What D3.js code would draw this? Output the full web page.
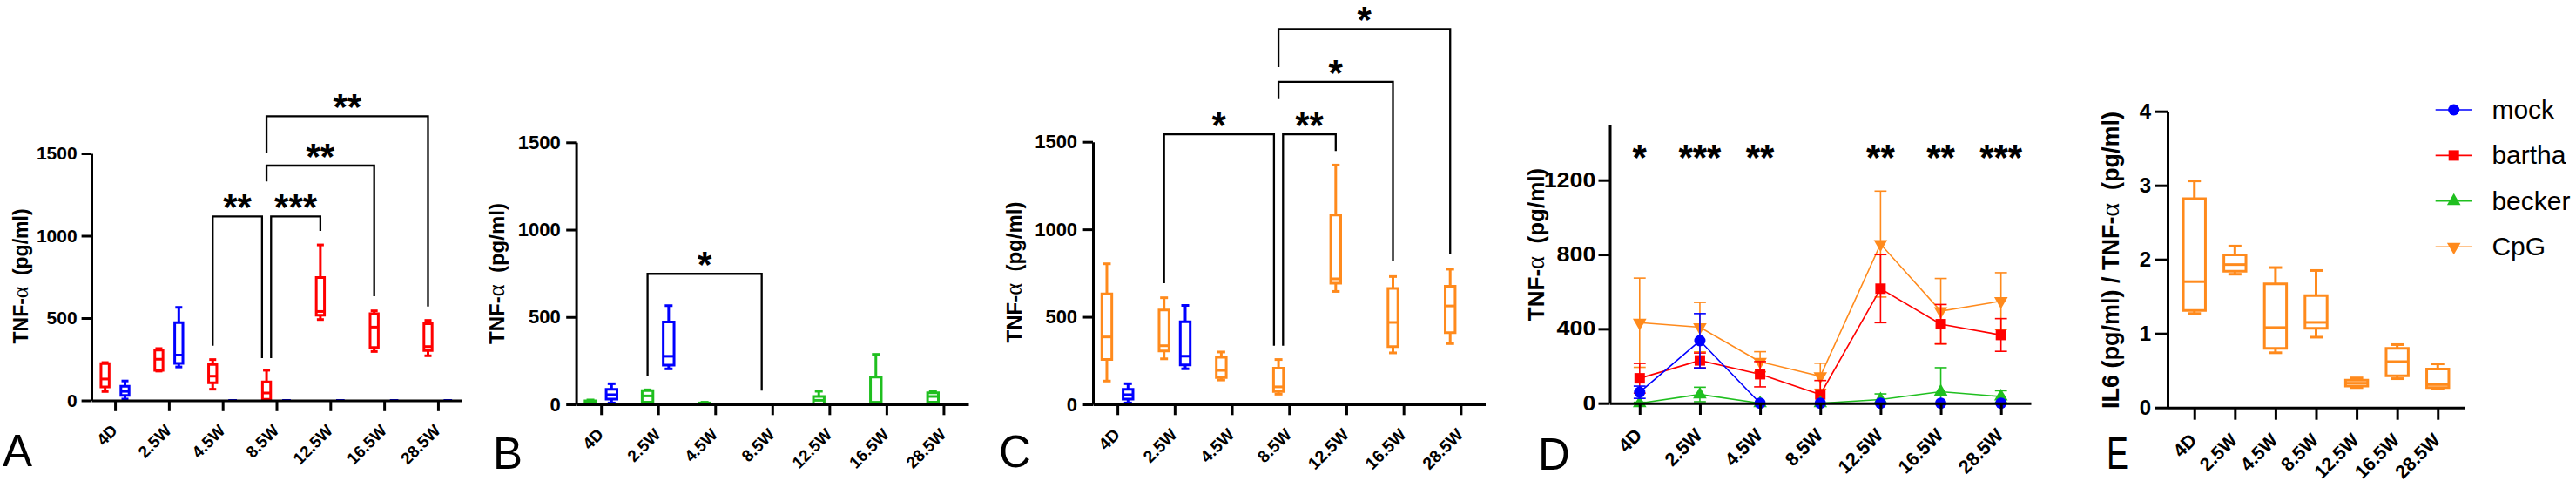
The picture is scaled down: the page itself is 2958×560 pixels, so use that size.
<!DOCTYPE html>
<html>
<head>
<meta charset="utf-8">
<script src="https://cdn.jsdelivr.net/npm/d3@7"></script>
<style>
  body { margin: 0; background: #fff; }
  svg text { font-family: "Liberation Sans", Arial, sans-serif; }
</style>
</head>
<body>
<div id="chart"></div>
<script>
// ---------- data ----------
const categories = ["4D", "2.5W", "4.5W", "8.5W", "12.5W", "16.5W", "28.5W"];

// box plot stats per time point: [min, q1, median, q3, max]  (TNF-alpha, pg/ml)
const mockBox = [[8, 30, 55, 86, 118], [203, 225, 275, 472, 565], [0, 0, 0, 0, 0], [0, 0, 0, 0, 0], [0, 0, 0, 0, 0], [0, 0, 0, 0, 0], [0, 0, 0, 0, 0]];
const barthaBox = [[54, 82, 130, 223, 230], [178, 182, 250, 306, 315], [68, 107, 147, 218, 248], [0, 6, 45, 112, 183], [491, 517, 540, 746, 944], [297, 322, 445, 527, 544], [271, 303, 327, 465, 486]];
const beckerBox = [[0, 3, 10, 20, 25], [3, 12, 48, 78, 83], [0, 2, 5, 8, 12], [0, 0, 0, 0, 0], [0, 3, 23, 45, 75], [0, 3, 12, 156, 286], [3, 12, 45, 66, 73]];
const cpgBox = [[133, 257, 385, 631, 803], [260, 305, 335, 539, 609], [139, 153, 194, 269, 299], [58, 73, 100, 206, 256], [645, 692, 717, 1082, 1367], [294, 330, 468, 662, 730], [347, 410, 562, 675, 772]];
// IL6 / TNF-alpha ratio, CpG group
const ratioBox = [[1.27, 1.31, 1.70, 2.82, 3.06], [1.80, 1.84, 1.93, 2.06, 2.18], [0.74, 0.80, 1.08, 1.67, 1.89], [0.95, 1.07, 1.15, 1.51, 1.85], [0.27, 0.29, 0.33, 0.37, 0.40], [0.39, 0.43, 0.62, 0.80, 0.85], [0.25, 0.27, 0.31, 0.52, 0.59]];

// panel D: mean and SD
const mockMean = [59, 336, 0, 0, 0, 0, 0];
const mockSD = [33, 146, 0, 0, 0, 0, 0];
const barthaMean = [134, 230, 156, 47, 616, 425, 367];
const barthaSD = [80, 40, 68, 75, 183, 106, 88];
const beckerMean = [0, 47, 0, 0, 20, 62, 36];
const beckerSD = [5, 39, 0, 0, 30, 129, 31];
const cpgMean = [433, 409, 223, 145, 856, 495, 549];
const cpgSD = [240, 133, 54, 70, 285, 176, 153];
const starsD = ["*", "***", "**", "", "**", "**", "***"];

// significance brackets (values in pg/ml): bar height and leg ends
const bracketsA = [
  { from: "4.5W", to: "8.5W", y: 1117, fromEnd: 332, toEnd: 257, label: "**" },
  { from: "8.5W", to: "12.5W", y: 1117, fromEnd: 257, toEnd: 1029, label: "***" },
  { from: "8.5W", to: "16.5W", y: 1426, fromEnd: 1329, toEnd: 632, label: "**" },
  { from: "8.5W", to: "28.5W", y: 1726, fromEnd: 1505, toEnd: 570, label: "**" }
];
const bracketsB = [
  { from: "2.5W", to: "8.5W", y: 747, fromEnd: 161, toEnd: 78, label: "*" }
];
const bracketsC = [
  { from: "2.5W", to: "8.5W", y: 1543, fromEnd: 692, toEnd: 335, label: "*" },
  { from: "8.5W", to: "12.5W", y: 1543, fromEnd: 335, toEnd: 1447, label: "**" },
  { from: "8.5W", to: "16.5W", y: 1843, fromEnd: 1744, toEnd: 816, label: "*" },
  { from: "8.5W", to: "28.5W", y: 2144, fromEnd: 1927, toEnd: 858, label: "*" }
];

const legendNames = ["mock", "bartha", "becker", "CpG"];

const colors = { mock: "#0000ff", bartha: "#ff0000", becker: "#1fbf1f", cpg: "#ff8a1c" };

// ---------- drawing ----------
const svg = d3.select("#chart").append("svg")
  .attr("width", 2958)
  .attr("height", 560)
  .style("background", "#fff");

const AXIS_W = 3;
const BOX_W = 3;

function makeScales(p) {
  const x = d3.scalePoint().domain(categories).range([p.left, p.right]).padding(p.pad);
  const y = d3.scaleLinear().domain([0, p.yMax]).range([p.bottom, p.top]);
  return { x, y };
}

function drawAxes(p, x, y) {
  const g = svg.append("g");

  const yAx = g.append("g")
    .attr("transform", "translate(" + p.left + ",0)")
    .call(d3.axisLeft(y).tickValues(p.yTicks).tickFormat(d3.format("d"))
      .tickSize(p.yTickLen).tickSizeOuter(0).tickPadding(p.yPad || 5));
  yAx.selectAll("path, line").attr("stroke", "#000").attr("stroke-width", AXIS_W);
  yAx.selectAll("text")
    .attr("fill", "#000")
    .style("font-size", p.yFont + "px")
    .style("font-weight", "bold");
  if (p.yStretch) {
    yAx.selectAll("text").each(function () {
      const len = this.getComputedTextLength();
      d3.select(this).attr("textLength", len * p.yStretch).attr("lengthAdjust", "spacingAndGlyphs");
    });
  }

  const xAx = g.append("g")
    .attr("transform", "translate(0," + p.bottom + ")")
    .call(d3.axisBottom(x).tickSize(p.xTickLen).tickSizeOuter(0));
  xAx.selectAll("path, line").attr("stroke", "#000").attr("stroke-width", AXIS_W);
  xAx.selectAll("text")
    .attr("x", 0).attr("y", 0).attr("dy", null)
    .attr("text-anchor", "end")
    .attr("fill", "#000")
    .attr("transform", "translate(3.5," + (p.xTickLen + 14 + 0.5 * p.xFont) + ") rotate(-45)")
    .style("font-size", p.xFont + "px")
    .style("font-weight", "bold");

  // y axis title
  const t = svg.append("text")
    .attr("transform", "translate(" + p.titleX + "," + p.titleY + ") rotate(-90)")
    .attr("text-anchor", "middle")
    .style("font-size", p.titleFont + "px")
    .style("font-weight", "bold");
  t.append("tspan").text(p.titlePre + "TNF-");
  t.append("tspan").text("\u03b1")
    .style("font-family", "'Liberation Serif', 'DejaVu Serif', serif")
    .style("font-weight", "normal")
    .style("font-size", (p.titleFont * 1.1) + "px");
  t.append("tspan").text(" \u00a0(pg/ml)");

  // panel letter
  const L = svg.append("text")
    .attr("x", p.letterX).attr("y", p.letterY)
    .style("font-size", "51px")
    .text(p.letter);
  if (p.letterLen) L.attr("textLength", p.letterLen).attr("lengthAdjust", "spacingAndGlyphs");
}

function drawBoxes(p, x, y, data, color, offset) {
  const w = p.boxW, cw = p.capW;
  const rows = data.map((s, i) => ({ cat: categories[i], s: s }));
  const grp = svg.append("g")
    .attr("fill", "none")
    .attr("stroke", color)
    .attr("stroke-width", BOX_W)
    .selectAll("g")
    .data(rows)
    .join("g")
    .attr("transform", d => "translate(" + (x(d.cat) + offset) + ",0)");

  // whiskers
  grp.append("line").attr("x1", 0).attr("x2", 0)
    .attr("y1", d => y(d.s[3])).attr("y2", d => y(d.s[4]));
  grp.append("line").attr("x1", 0).attr("x2", 0)
    .attr("y1", d => y(d.s[1])).attr("y2", d => y(d.s[0]));
  // caps
  grp.append("line").attr("x1", -cw / 2).attr("x2", cw / 2)
    .attr("y1", d => y(d.s[4])).attr("y2", d => y(d.s[4]));
  grp.append("line").attr("x1", -cw / 2).attr("x2", cw / 2)
    .attr("y1", d => y(d.s[0])).attr("y2", d => y(d.s[0]));
  // box (path so a zero-height box still strokes)
  grp.append("path")
    .attr("fill", "#fff")
    .attr("d", d => "M" + (-w / 2) + "," + y(d.s[3]) + "H" + (w / 2) + "V" + y(d.s[1]) + "H" + (-w / 2) + "Z");
  // median
  grp.append("line").attr("x1", -w / 2).attr("x2", w / 2)
    .attr("y1", d => y(d.s[2])).attr("y2", d => y(d.s[2]));
}

function drawBrackets(x, y, list, offset) {
  const g = svg.append("g");
  list.forEach(b => {
    let x1 = x(b.from) + offset, x2 = x(b.to) + offset;
    // nudge legs apart when two bars at the same height share a group
    if (list.some(o => o !== b && o.y === b.y && o.to === b.from)) x1 += 5.2;
    if (list.some(o => o !== b && o.y === b.y && o.from === b.to)) x2 -= 5.2;
    g.append("path")
      .attr("d", "M" + x1 + "," + y(b.fromEnd) + "V" + y(b.y) + "H" + x2 + "V" + y(b.toEnd))
      .attr("fill", "none")
      .attr("stroke", "#000")
      .attr("stroke-width", 2.3);
    g.append("text")
      .attr("x", (x1 + x2) / 2)
      .attr("y", y(b.y) + 4)
      .attr("text-anchor", "middle")
      .style("font-size", "42px")
      .style("font-weight", "bold")
      .text(b.label);
  });
}

// ---- panel A: bartha vs mock ----
const layA = { left: 105, right: 530, top: 176, bottom: 459.5, pad: 0.438, yMax: 1500, yTicks: [0, 500, 1000, 1500],
  yTickLen: 11.4, xTickLen: 12.3, yFont: 21, xFont: 19, boxW: 9.4, capW: 8,
  titleX: 31.8, titleY: 317, titleFont: 23, titlePre: "", letter: "A", letterX: 3, letterY: 535 };
// ---- panel B: becker vs mock ----
const layB = { left: 661.6, right: 1112, top: 163.3, bottom: 464, pad: 0.436, yMax: 1500, yTicks: [0, 500, 1000, 1500],
  yTickLen: 11.4, xTickLen: 12.3, yFont: 22, xFont: 19, yPad: 6.5, boxW: 12.4, capW: 9,
  titleX: 578.8, titleY: 314, titleFont: 24, titlePre: "", letter: "B", letterX: 566, letterY: 537.5 };
// ---- panel C: CpG vs mock ----
const layC = { left: 1255, right: 1705.5, top: 162.7, bottom: 464, pad: 0.428, yMax: 1500, yTicks: [0, 500, 1000, 1500],
  yTickLen: 11.4, xTickLen: 12.3, yFont: 22, xFont: 19.5, yPad: 6.5, boxW: 11.4, capW: 9,
  titleX: 1173, titleY: 312.5, titleFont: 24, titlePre: "", letter: "C", letterX: 1147, letterY: 535.7 };
// ---- panel D: means ----
const layD = { left: 1848.5, right: 2332, top: 142.7, bottom: 462.7, pad: 0.496, yMax: 1500, yTicks: [0, 400, 800, 1200],
  yTickLen: 13, xTickLen: 13.3, yFont: 23, xFont: 21.5, yPad: 3, yStretch: 1.17,
  titleX: 1773, titleY: 280.5, titleFont: 26, titlePre: "", letter: "D", letterX: 1766, letterY: 539 };
// ---- panel E: ratio ----
const layE = { left: 2489, right: 2830, top: 127.7, bottom: 467.7, pad: 0.66, yMax: 4, yTicks: [0, 1, 2, 3, 4],
  yTickLen: 14, xTickLen: 14, yFont: 24, xFont: 21.5, boxW: 25.4, capW: 15,
  titleX: 2432.5, titleY: 298.5, titleFont: 27, titlePre: "IL6 (pg/ml) / ", letter: "E", letterX: 2419, letterY: 538.3, letterLen: 25 };

const OFF = 0.185;

// A
(function () {
  const { x, y } = makeScales(layA);
  const o = OFF * x.step();
  drawBoxes(layA, x, y, barthaBox, colors.bartha, -o);
  drawBoxes(layA, x, y, mockBox, colors.mock, o);
  drawBrackets(x, y, bracketsA, -o);
  drawAxes(layA, x, y);
})();

// B
(function () {
  const { x, y } = makeScales(layB);
  const o = OFF * x.step();
  drawBoxes(layB, x, y, beckerBox, colors.becker, -o);
  drawBoxes(layB, x, y, mockBox, colors.mock, o);
  drawBrackets(x, y, bracketsB, -o);
  drawAxes(layB, x, y);
})();

// C
(function () {
  const { x, y } = makeScales(layC);
  const o = OFF * x.step();
  drawBoxes(layC, x, y, cpgBox, colors.cpg, -o);
  drawBoxes(layC, x, y, mockBox, colors.mock, o);
  drawBrackets(x, y, bracketsC, -o);
  drawAxes(layC, x, y);
})();

// symbol generators shared by D and the legend
const symbols = {
  mock: d3.symbol().type(d3.symbolCircle).size(133)(),
  bartha: d3.symbol().type(d3.symbolSquare).size(144)(),
  becker: d3.symbol().type(d3.symbolTriangle).size(105)(),
  cpg: d3.symbol().type(d3.symbolTriangle).size(105)()
};
const symRot = { mock: 0, bartha: 0, becker: 0, cpg: 180 };

// D
(function () {
  const { x, y } = makeScales(layD);
  const series = [
    { key: "cpg", mean: cpgMean, sd: cpgSD },
    { key: "bartha", mean: barthaMean, sd: barthaSD },
    { key: "becker", mean: beckerMean, sd: beckerSD },
    { key: "mock", mean: mockMean, sd: mockSD }
  ];
  const line = d3.line().x((d, i) => x(categories[i])).y(d => y(d));
  const cap = 13.8;
  series.forEach(s => {
    const g = svg.append("g").attr("stroke", colors[s.key]).attr("fill", colors[s.key]);
    g.append("path").datum(s.mean).attr("d", line).attr("fill", "none").attr("stroke-width", 1.6);
    const pts = s.mean.map((m, i) => ({ cx: x(categories[i]), m: m, sd: s.sd[i] }));
    const eb = g.selectAll("g.eb").data(pts.filter(d => d.sd > 0)).join("g").attr("stroke-width", 1.6);
    eb.append("line").attr("x1", d => d.cx).attr("x2", d => d.cx)
      .attr("y1", d => y(Math.max(0, d.m - d.sd))).attr("y2", d => y(d.m + d.sd));
    eb.append("line").attr("x1", d => d.cx - cap / 2).attr("x2", d => d.cx + cap / 2)
      .attr("y1", d => y(d.m + d.sd)).attr("y2", d => y(d.m + d.sd));
    eb.append("line").attr("x1", d => d.cx - cap / 2).attr("x2", d => d.cx + cap / 2)
      .attr("y1", d => y(Math.max(0, d.m - d.sd))).attr("y2", d => y(Math.max(0, d.m - d.sd)));
    g.selectAll("path.mk").data(pts).join("path")
      .attr("class", "mk")
      .attr("stroke", "none")
      .attr("d", symbols[s.key])
      .attr("transform", d => "translate(" + d.cx + "," + y(d.m) + ") rotate(" + symRot[s.key] + ")");
  });
  drawAxes(layD, x, y);

  svg.append("g").selectAll("text")
    .data(starsD.map((s, i) => ({ cat: categories[i], s: s })))
    .join("text")
    .attr("x", d => x(d.cat))
    .attr("y", y(1364) + 23)
    .attr("text-anchor", "middle")
    .style("font-size", "42px")
    .style("font-weight", "bold")
    .text(d => d.s);
})();

// E
(function () {
  const { x, y } = makeScales(layE);
  drawBoxes(layE, x, y, ratioBox, colors.cpg, 0);
  drawAxes(layE, x, y);

  // legend
  const keys = ["mock", "bartha", "becker", "cpg"];
  const lg = svg.append("g").selectAll("g")
    .data(keys.map((k, i) => ({ k: k, name: legendNames[i], i: i })))
    .join("g")
    .attr("transform", d => "translate(0," + (126 + d.i * 52.4) + ")");
  lg.append("line").attr("x1", 2796.7).attr("x2", 2839).attr("y1", 0).attr("y2", 0)
    .attr("stroke", d => colors[d.k]).attr("stroke-width", 1.6);
  lg.append("path").attr("d", d => symbols[d.k]).attr("fill", d => colors[d.k])
    .attr("transform", d => "translate(2817.7,0) rotate(" + symRot[d.k] + ")");
  lg.append("text").attr("x", 2861.4).attr("y", 0).attr("dy", "0.33em")
    .style("font-size", "30px")
    .text(d => d.name);
})();
</script>
</body>
</html>
